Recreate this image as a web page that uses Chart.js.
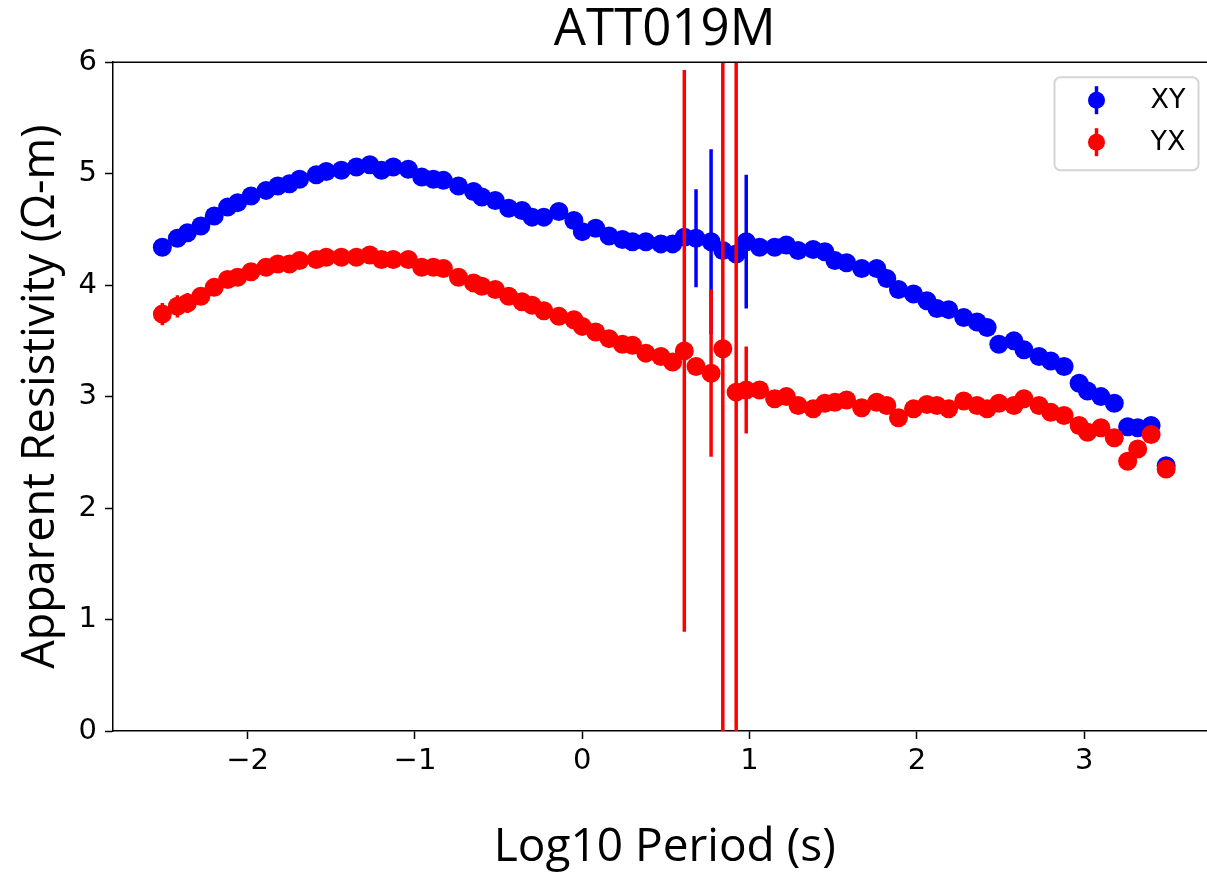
<!DOCTYPE html>
<html>
<head>
<meta charset="utf-8">
<script src="https://cdn.jsdelivr.net/npm/chart.js@4.4.0/dist/chart.umd.min.js"></script>
<style>
    html, body { margin: 0; padding: 0; background: #fff; overflow: hidden; }
    #wrap { width: 1226px; height: 876px; }
</style>
</head>
<body>
<div id="wrap"><canvas id="rhoChart" width="1226" height="876"></canvas></div>
<script>
/* ATT019M — apparent resistivity vs log10 period, XY and YX with error bars */

const stationName = 'ATT019M';

// Log10 period (s) of each estimate
const logPeriod = [
    -2.51, -2.42, -2.36, -2.28, -2.20, -2.12, -2.06, -1.98, -1.89, -1.82, -1.75, -1.69, -1.59, -1.53,
    -1.44, -1.35, -1.27, -1.20, -1.13, -1.04, -0.96, -0.89, -0.83, -0.74, -0.65, -0.60, -0.52,
    -0.44, -0.36, -0.30, -0.23, -0.14, -0.05, 0.00, 0.08, 0.16, 0.24, 0.30, 0.38, 0.47, 0.54,
    0.61, 0.68, 0.77, 0.84, 0.92, 0.98, 1.06, 1.15, 1.22, 1.29, 1.38, 1.45, 1.51, 1.58,
    1.67, 1.76, 1.82, 1.89, 1.98, 2.06, 2.12, 2.19, 2.28, 2.36, 2.42, 2.49, 2.58, 2.64,
    2.73, 2.80, 2.88, 2.97, 3.02, 3.10, 3.18, 3.26, 3.32, 3.40, 3.49
];

// Apparent resistivity, XY component
const rhoXY = [
    4.34, 4.42, 4.47, 4.53, 4.62, 4.70, 4.74, 4.80, 4.85, 4.89, 4.91, 4.95, 4.99, 5.02,
    5.03, 5.06, 5.08, 5.03, 5.06, 5.04, 4.97, 4.95, 4.94, 4.89, 4.84, 4.79, 4.76,
    4.69, 4.67, 4.61, 4.61, 4.66, 4.58, 4.48, 4.51, 4.44, 4.41, 4.39, 4.39, 4.37, 4.37,
    4.43, 4.42, 4.39, 4.31, 4.28, 4.39, 4.34, 4.34, 4.36, 4.31, 4.32, 4.30, 4.22, 4.20,
    4.15, 4.15, 4.06, 3.96, 3.92, 3.86, 3.79, 3.78, 3.71, 3.67, 3.62, 3.47, 3.50, 3.42,
    3.36, 3.32, 3.27, 3.12, 3.05, 3.00, 2.94, 2.73, 2.72, 2.74, 2.38
];
const errXY = [
    0.04, 0.04, 0.04, 0.04, 0.04, 0.04, 0.04, 0.04, 0.04, 0.04, 0.04, 0.04, 0.04, 0.04,
    0.04, 0.04, 0.04, 0.04, 0.04, 0.04, 0.04, 0.04, 0.04, 0.04, 0.04, 0.04, 0.04,
    0.04, 0.04, 0.04, 0.04, 0.04, 0.04, 0.04, 0.04, 0.04, 0.04, 0.04, 0.04, 0.04, 0.05,
    0.05, 0.44, 0.83, 0.06, 0.06, 0.60, 0.05, 0.04, 0.04, 0.04, 0.04, 0.04, 0.04, 0.04,
    0.04, 0.04, 0.04, 0.04, 0.04, 0.04, 0.04, 0.04, 0.04, 0.04, 0.04, 0.04, 0.04, 0.04,
    0.04, 0.04, 0.04, 0.04, 0.04, 0.04, 0.04, 0.04, 0.04, 0.04, 0.04
];

// Apparent resistivity, YX component
const rhoYX = [
    3.74, 3.81, 3.84, 3.90, 3.98, 4.05, 4.07, 4.12, 4.16, 4.19, 4.19, 4.22, 4.23, 4.25,
    4.25, 4.25, 4.27, 4.23, 4.23, 4.23, 4.16, 4.16, 4.15, 4.07, 4.02, 3.99, 3.96,
    3.90, 3.85, 3.82, 3.77, 3.72, 3.69, 3.63, 3.58, 3.52, 3.47, 3.46, 3.39, 3.36, 3.31,
    3.41, 3.27, 3.21, 3.43, 3.04, 3.06, 3.06, 2.98, 3.00, 2.92, 2.89, 2.94, 2.95, 2.97,
    2.90, 2.95, 2.92, 2.81, 2.89, 2.93, 2.92, 2.89, 2.96, 2.92, 2.89, 2.94, 2.92, 2.98,
    2.92, 2.86, 2.83, 2.74, 2.68, 2.72, 2.63, 2.42, 2.53, 2.66, 2.35
];
const errYX = [
    0.10, 0.10, 0.09, 0.06, 0.05, 0.05, 0.05, 0.05, 0.05, 0.05, 0.05, 0.05, 0.05, 0.05,
    0.05, 0.05, 0.05, 0.05, 0.05, 0.05, 0.05, 0.05, 0.05, 0.05, 0.05, 0.05, 0.05,
    0.05, 0.05, 0.05, 0.05, 0.05, 0.05, 0.05, 0.05, 0.05, 0.05, 0.05, 0.05, 0.05, 0.06,
    2.52, 0.06, 0.75, 4.60, 4.20, 0.39, 0.06, 0.05, 0.05, 0.05, 0.05, 0.05, 0.05, 0.05,
    0.05, 0.05, 0.05, 0.05, 0.05, 0.05, 0.05, 0.05, 0.05, 0.05, 0.05, 0.05, 0.05, 0.05,
    0.05, 0.05, 0.05, 0.05, 0.05, 0.05, 0.05, 0.05, 0.05, 0.05, 0.05
];

const xTicks = [-2, -1, 0, 1, 2, 3];
const yTicks = [0, 1, 2, 3, 4, 5, 6];

const series = [
    { label: 'XY', color: '#0000ff', values: rhoXY, errors: errXY, order: 2 },
    { label: 'YX', color: '#ff0000', values: rhoYX, errors: errYX, order: 1 }
];

const tickFont = { family: 'DejaVu Sans', size: 29 };

function fmtTick(v) {
    return v < 0 ? '\u2212' + Math.abs(v) : String(v);
}

// vertical error bars, drawn under each dataset's markers
const errorBars = {
    id: 'errorBars',
    beforeDatasetDraw(chart, args) {
        const { ctx, chartArea, scales } = chart;
        const s = series[args.index];
        ctx.save();
        ctx.beginPath();
        ctx.rect(chartArea.left, chartArea.top, chartArea.right - chartArea.left, chartArea.bottom - chartArea.top);
        ctx.clip();
        ctx.strokeStyle = s.color;
        ctx.lineWidth = 3.5;
        s.values.forEach((v, i) => {
            const x = scales.x.getPixelForValue(logPeriod[i]);
            ctx.beginPath();
            ctx.moveTo(x, scales.y.getPixelForValue(v - s.errors[i]));
            ctx.lineTo(x, scales.y.getPixelForValue(v + s.errors[i]));
            ctx.stroke();
        });
        ctx.restore();
    }
};

// top spine (right one falls off the page) + matplotlib-style legend
const frameAndLegend = {
    id: 'frameAndLegend',
    afterDraw(chart) {
        const { ctx, chartArea } = chart;
        ctx.save();
        ctx.strokeStyle = '#000';
        ctx.lineWidth = 1.5;
        ctx.beginPath();
        ctx.moveTo(chartArea.left, chartArea.top);
        ctx.lineTo(chartArea.right, chartArea.top);
        ctx.stroke();

        const w = 144, h = 93;
        const left = chartArea.right - 18 - w;
        const top = chartArea.top + 15;
        ctx.beginPath();
        ctx.roundRect(left, top, w, h, 6);
        ctx.fillStyle = 'rgba(255,255,255,0.8)';
        ctx.fill();
        ctx.strokeStyle = '#d5d5d5';
        ctx.lineWidth = 2;
        ctx.stroke();

        ctx.font = '27px "DejaVu Sans"';
        ctx.textBaseline = 'middle';
        series.forEach((s, i) => {
            const cx = left + 42, cy = top + 23 + i * 42;
            ctx.strokeStyle = s.color;
            ctx.lineWidth = 3.5;
            ctx.beginPath();
            ctx.moveTo(cx, cy - 14);
            ctx.lineTo(cx, cy + 14);
            ctx.stroke();
            ctx.fillStyle = s.color;
            ctx.beginPath();
            ctx.arc(cx, cy, 8.5, 0, Math.PI * 2);
            ctx.fill();
            ctx.fillStyle = '#000';
            ctx.fillText(s.label, left + 96, cy + 1);
        });
        ctx.restore();
    }
};

const ctx = document.getElementById('rhoChart').getContext('2d');
const rhoChart = new Chart(ctx, {
    type: 'scatter',
    data: {
        datasets: series.map(s => ({
            label: s.label,
            data: logPeriod.map((x, i) => ({ x, y: s.values[i] })),
            backgroundColor: s.color,
            borderColor: s.color,
            borderWidth: 0,
            pointRadius: 9.5,
            pointHoverRadius: 9.5,
            order: s.order
        }))
    },
    options: {
        responsive: false,
        animation: false,
        events: [],
        layout: { padding: { left: 0, right: 2, top: 0, bottom: 0 } },
        plugins: {
            legend: { display: false },
            tooltip: { enabled: false },
            title: {
                display: true,
                fullSize: false,
                text: stationName,
                color: '#000',
                font: { family: 'Open Sans', size: 51, weight: 'normal' },
                padding: { top: 0, bottom: 1 }
            }
        },
        scales: {
            x: {
                type: 'linear',
                min: -2.805,
                max: 3.791,
                afterFit: scale => { scale.height = 145; },
                afterBuildTicks: scale => { scale.ticks = xTicks.map(v => ({ value: v })); },
                ticks: { color: '#000', font: tickFont, padding: 5, callback: fmtTick, maxRotation: 0 },
                grid: { drawOnChartArea: false, tickLength: 8, tickColor: '#000', tickWidth: 1.5 },
                border: { color: '#000', width: 1.5 },
                title: { display: true, text: 'Log10 Period (s)', color: '#000', font: { family: 'Open Sans', size: 46 }, padding: { top: 0, bottom: 1 } }
            },
            y: {
                min: 0,
                max: 6,
                afterFit: scale => { scale.width = 113; },
                afterBuildTicks: scale => { scale.ticks = yTicks.map(v => ({ value: v })); },
                ticks: { color: '#000', font: tickFont, padding: 8, callback: fmtTick },
                grid: { drawOnChartArea: false, tickLength: 8, tickColor: '#000', tickWidth: 1.5 },
                border: { color: '#000', width: 1.5 },
                title: { display: true, text: 'Apparent Resistivity (\u03A9-m)', color: '#000', font: { family: 'Open Sans', size: 45 }, padding: { top: 14, bottom: 0 } }
            }
        }
    },
    plugins: [errorBars, frameAndLegend]
});
</script>
</body>
</html>
